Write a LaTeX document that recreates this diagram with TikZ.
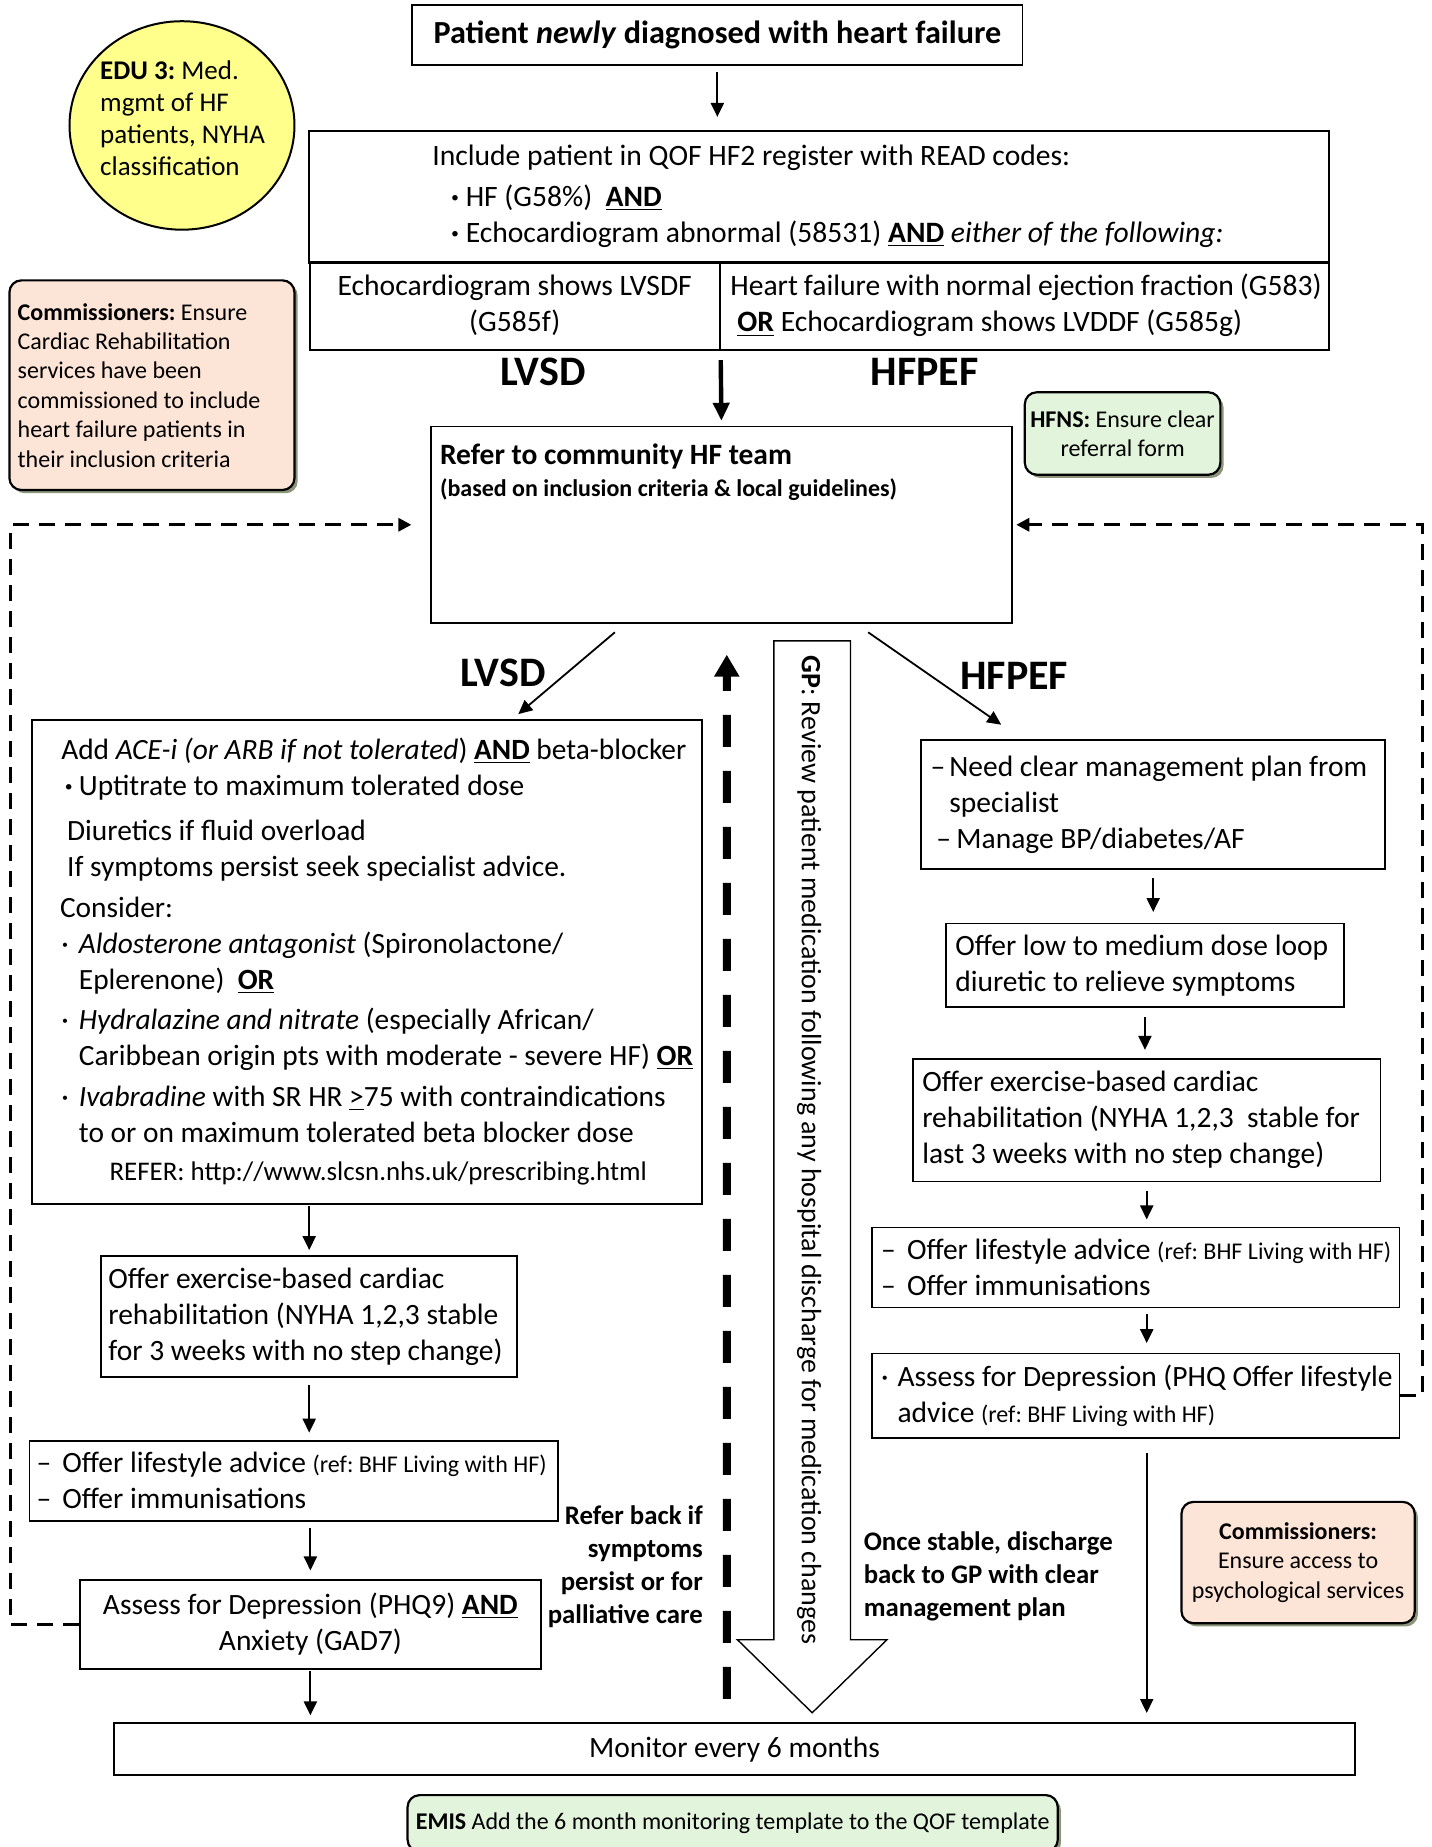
\documentclass[tikz,border=0pt]{standalone}
\usepackage{fontspec}
\setmainfont{Carlito}
\usetikzlibrary{shapes.geometric,arrows.meta,calc,shadows}
\newlength\ux
\setlength\ux{0.589pt}
\definecolor{edufill}{HTML}{FFFF8C}
\definecolor{peach}{HTML}{FCE4D6}
\definecolor{mint}{HTML}{E2F5DC}
\definecolor{shade}{HTML}{7E8A6C}
\newcommand\pushin[1]{\hspace*{#1\ux}}
\newcommand\lbul{\makebox[15\ux][l]{·}}
\newcommand\ldash[1]{\makebox[#1\ux][l]{–}}
\newcommand\reffont{\fontsize{12}{13}\selectfont}
\frenchspacing
\begin{document}
\begin{tikzpicture}[x=0.589pt, y=-0.589pt, font=\fontsize{14.75}{18}\selectfont]
    \tikzstyle{box}=[draw, line width=0.9pt, inner xsep=8\ux, inner ysep=0pt, align=flush left]
    \tikzstyle{note}=[draw, line width=1.1pt, rounded corners=6pt, inner xsep=6\ux, inner ysep=0pt, font=\fontsize{12}{14.7}\selectfont, drop shadow={shadow xshift=1.6pt, shadow yshift=-1.6pt, fill=shade, opacity=0.9}]
    \tikzstyle{arr}=[line width=1.1pt, -{Triangle[length=7pt,width=6.5pt]}]
    \tikzstyle{loop}=[line width=1.5pt, dash pattern=on 8pt off 5pt, -{Triangle[length=6.5pt,width=6.5pt]}]
    \tikzstyle{big}=[font=\fontsize{21}{24}\selectfont\bfseries]
    \tikzstyle{say}=[font=\fontsize{13.4}{16.5}\selectfont\bfseries, inner sep=0pt]
    \useasboundingbox (0,0) rectangle (1215,1568);
    \node [box, align=flush center, text width=510\ux, inner xsep=4\ux, minimum height=51\ux, font=\fontsize{16.1}{18}\selectfont\bfseries] (top) at (609,29.5) {Patient \textit{newly} diagnosed with heart failure};
    \node [box, inner xsep=0pt, text width=866\ux, minimum height=112\ux, font=\fontsize{14.8}{18}\selectfont] (reg) at (695,167) {\pushin{105}Include patient in QOF HF2 register with READ codes:\\[2.5pt] \pushin{121}\textbf{·}\ HF (G58\%)\ \ \underline{\textbf{AND}}\\ \pushin{121}\textbf{·}\ Echocardiogram abnormal (58531) \underline{\textbf{AND}} \textit{either of the following:}};
    \node [box, align=flush center, inner xsep=4\ux, text width=340\ux, minimum height=75\ux, font=\fontsize{14.8}{18}\selectfont] (lsplit) at (437,259.5) {Echocardiogram shows LVSDF\\(G585f)};
    \node [box, inner xsep=6\ux, text width=505\ux, minimum height=75\ux, font=\fontsize{14.8}{18}\selectfont] (rsplit) at (869.5,259.5) {\pushin{3}Heart failure with normal ejection fraction (G583)\\\pushin{9}\underline{\textbf{OR}} Echocardiogram shows LVDDF (G585g)};
    \node [big] (lvsdtop) at (461,316) {LVSD};
    \node [big] (hfpeftop) at (785,316) {HFPEF};
    \node [ellipse, draw, line width=1pt, fill=edufill, minimum width=191\ux, minimum height=177\ux] (edu) at (154.5,106.5) {};
    \node [align=flush left, inner sep=0pt, font=\fontsize{13.5}{16}\selectfont] (edutext) at (155,100) {\textbf{EDU 3:} Med.\\mgmt of HF\\patients, NYHA\\classification};
    \node [note, fill=peach, align=flush left, inner xsep=7\ux, text width=228\ux, minimum height=178\ux] (comleft) at (129,327) {\textbf{Commissioners:} Ensure\\Cardiac Rehabilitation\\services have been\\commissioned to include\\heart failure patients in\\their inclusion criteria};
    \node [note, fill=mint, align=flush center, inner xsep=1\ux, text width=164\ux, minimum height=70\ux] (hfns) at (953,368) {\textbf{HFNS:} Ensure clear\\referral form};
    \node [box, minimum width=493\ux, minimum height=167\ux] (refer) at (612.5,445.5) {};
    \node [align=flush left, inner sep=0pt, anchor=north west] (refertext) at ($(refer.north west)+(8,15)$) {{\fontsize{14.75}{18}\selectfont\bfseries Refer to community HF team}\\[-2pt]{\fontsize{12}{14}\selectfont\bfseries (based on inclusion criteria \& local guidelines)}};
    \node [big] (lvsdlab) at (427,571) {LVSD};
    \node [big] (hfpeflab) at (861,574) {HFPEF};
    \node [box, inner xsep=2\ux, text width=565\ux, minimum height=411\ux, font=\fontsize{14.7}{18}\selectfont] (lbig) at (311.5,816.5) {\pushin{23}Add \textit{ACE-i (or ARB if not tolerated})\ \underline{\textbf{AND}} beta-blocker\\ \pushin{26}\makebox[12\ux][l]{\textbf{·}}Uptitrate to maximum tolerated dose\\[4.5pt] \pushin{28}Diuretics if fluid overload\\ \pushin{28}If symptoms persist seek specialist advice.\\[2.5pt] \pushin{22}Consider:\\ \pushin{23}\lbul\textit{Aldosterone antagonist} (Spironolactone/\\ \pushin{38}Eplerenone)\ \ \underline{\textbf{OR}}\\[2pt] \pushin{23}\lbul\textit{Hydralazine and nitrate} (especially African/\\ \pushin{38}Caribbean origin pts with moderate - severe HF) \underline{\textbf{OR}}\\[2.5pt] \pushin{23}\lbul\textit{Ivabradine} with SR HR \underline{>}75 with contraindications\\ \pushin{38}to or on maximum tolerated beta blocker dose\\[1pt] \pushin{64}{\fontsize{13.45}{14}\selectfont REFER: http://www.slcsn.nhs.uk/prescribing.html}};
    \node [box, inner xsep=6\ux, text width=341\ux, minimum height=103\ux] (lrehab) at (262.5,1117.5) {Offer exercise-based cardiac\\rehabilitation (NYHA 1,2,3 stable\\for 3 weeks with no step change)};
    \node [box, inner xsep=4\ux, text width=441\ux, minimum height=68\ux] (llife) at (249.5,1257) {\pushin{2}\ldash{22}Offer lifestyle advice {\reffont(ref: BHF Living with HF)}\\\pushin{2}\ldash{22}Offer immunisations};
    \node [box, align=flush center, text width=375\ux, minimum height=76\ux] (lassess) at (263.5,1379) {Assess for Depression (PHQ9) \underline{\textbf{AND}}\\Anxiety (GAD7)};
    \node [box, align=flush center, text width=1037\ux, minimum height=44\ux] (monitor) at (623.5,1485) {Monitor every 6 months};
    \node [note, fill=mint, anchor=north, minimum width=552\ux, minimum height=48\ux] (emis) at (622,1523) {\textbf{EMIS} Add the 6 month monitoring template to the QOF template};
    \node [box, inner xsep=6\ux, text width=382\ux, minimum height=110\ux] (r1) at (979,683) {\pushin{2}\ldash{16}Need clear management plan from\\\pushin{18}specialist\\\pushin{7}\ldash{17}Manage BP/diabetes/AF};
    \node [box, text width=322\ux, minimum height=71\ux] (r2) at (972,819.5) {Offer low to medium dose loop\\diuretic to relieve symptoms};
    \node [box, text width=381\ux, minimum height=104\ux] (r3) at (973.5,951) {Offer exercise-based cardiac\\rehabilitation (NYHA 1,2,3\ \ stable for\\last 3 weeks with no step change)};
    \node [box, inner xsep=3\ux, text width=442\ux, minimum height=68\ux] (r4) at (964,1076) {\pushin{5}\ldash{22}Offer lifestyle advice {\reffont(ref: BHF Living with HF)}\\\pushin{5}\ldash{22}Offer immunisations};
    \node [box, inner xsep=1\ux, text width=446\ux, minimum height=72\ux] (r5) at (964,1185) {\pushin{7}\makebox[14\ux][l]{·}Assess for Depression (PHQ Offer lifestyle\\\pushin{21}advice {\reffont(ref: BHF Living with HF)}};
    \node [note, fill=peach, align=flush center, text width=186\ux, minimum height=103\ux] (comright) at (1102,1326.5) {\textbf{Commissioners:}\\Ensure access to\\psychological services};
    \node [say, align=flush right, anchor=east] (referback) at (597,1330) {Refer back if\\symptoms\\persist or for\\palliative care};
    \node [say, align=flush left, anchor=west] (stable) at (733,1338) {Once stable, discharge\\back to GP with clear\\management plan};
    \draw [line width=0.7pt, fill=white] (657,544) -- (722,544) -- (722,1392) -- (753,1392) -- (689.5,1454) -- (626,1392) -- (657,1392) -- cycle;
    \node [rotate=-90, anchor=west, inner sep=0pt, font=\fontsize{14}{16}\selectfont] (gptext) at (687,556) {\textbf{GP}: Review patient medication following any hospital discharge for medication changes};
    \draw [arr, shorten <=5\ux, shorten >=11\ux] (top.south) -- (top.south |- reg.north);
    \draw [line width=2.2pt, -{Triangle[length=9pt,width=8pt]}, shorten <=8\ux, shorten >=4\ux] (lsplit.south east) -- (refer.north);
    \draw [line width=0.9pt, -{Triangle[length=7pt,width=6.5pt]}] ($(refer.south)+(-90.5,7)$) -- ($(lbig.north)+(128.5,-4)$);
    \draw [line width=0.9pt, -{Triangle[length=7pt,width=6.5pt]}] ($(refer.south)+(124.5,7)$) -- ($(r1.north)+(-129,-12)$);
    \draw [arr, shorten <=1\ux, shorten >=4\ux] (lbig.south -| lrehab.north) -- (lrehab.north);
    \draw [arr, shorten <=6\ux, shorten >=6\ux] (lrehab.south) -- (lrehab.south |- llife.north);
    \draw [arr, shorten <=5\ux, shorten >=7\ux] (lassess.north |- llife.south) -- (lassess.north);
    \draw [arr, shorten <=1\ux, shorten >=6\ux] (lassess.south) -- (lassess.south |- monitor.north);
    \draw [arr, shorten <=7\ux, shorten >=9\ux] (r1.south) -- (r1.south |- r2.north);
    \draw [arr, shorten <=8\ux, shorten >=7\ux] (r2.south) -- (r2.south |- r3.north);
    \draw [arr, shorten <=7\ux, shorten >=6\ux] (r3.south) -- (r3.south |- r4.north);
    \draw [arr, shorten <=5\ux, shorten >=8\ux] (r3.south |- r4.south) -- (r3.south |- r5.north);
    \draw [arr, shorten <=12\ux, shorten >=8\ux] (r3.south |- r5.south) -- (r3.south |- monitor.north);
    \draw [line width=4pt, dash pattern=on 16pt off 12pt, -{Triangle[length=11pt,width=12pt]}] ($(monitor.north)+(-6.5,-20)$) -- ($(refer.south)+(4.5,26)$);
    \draw [loop, shorten >=16\ux] (lassess.west) -- ++(-58,0) |- (refer.west);
    \draw [loop, shorten >=3\ux] (r5.east) -- ++(19,0) |- (refer.east);
\end{tikzpicture}
\end{document}
